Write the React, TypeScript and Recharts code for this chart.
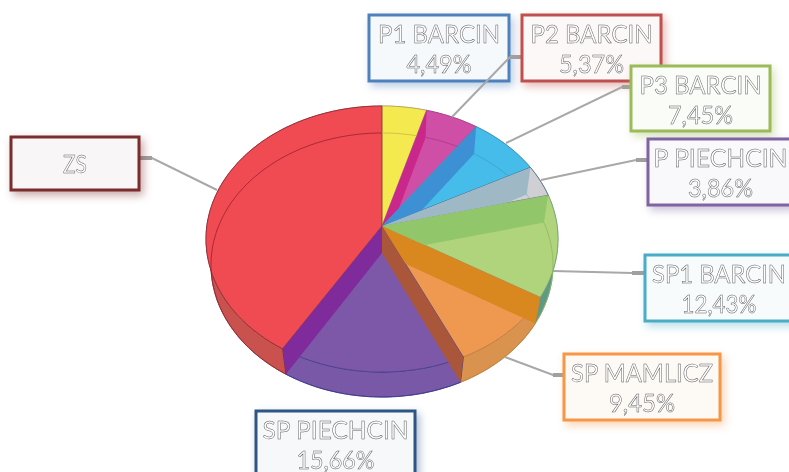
import React from 'react'
import { PieChart, Pie } from 'recharts'

const categories = ['P1 BARCIN', 'P2 BARCIN', 'P3 BARCIN', 'P PIECHCIN', 'SP1 BARCIN', 'SP MAMLICZ', 'SP PIECHCIN', 'ZS']
const shares = [4.49, 5.37, 7.45, 3.86, 12.43, 9.45, 15.66, 41.29]
const shareLabels = ['4,49%', '5,37%', '7,45%', '3,86%', '12,43%', '9,45%', '15,66%', '']

const faceColors = ['#f4ea50', '#cf4ea6', '#46bcea', '#d0d0d4', '#afd47c', '#ee9850', '#7d58a8', '#f04a52']
const edgeColors = ['#a89c50', '#a0408a', '#3a88b0', '#44607c', '#6f9a70', '#b87838', '#3b3788', '#7c2430']
const rimColors = ['#d8cc40', '#b04090', '#3a9cc8', '#b0b0b4', '#5f9a84', '#d9934f', '#7a58a8', '#c9524f']
const backArcColors = ['#c8b840', '#a83a90', '#3aa0d0', '#a8a8ac', '#8cb860', '#c88038', '#3b3788', '#982030']
// band seen through the glass where a slice starts / ends
const startWalls = [null, '#c9288a', '#3e90d4', '#9fb8c6', '#92c66a', '#d9871f', '#a9563a', null]
const endWalls = [null, null, null, null, null, null, '#7f2b9b', null]
const borderColors = ['#4f81bd', '#c0504d', '#9bbb59', '#8064a2', '#4bacc6', '#f79646', '#2f5585', '#7b2c2c']
const boxFills = ['#f5f9fc', '#fcf8f7', '#fafcf7', '#f9f9fb', '#f7fbfc', '#fdf9f5', '#f6f8f9', '#f8f6f6']

// box: x, y, w, h / leader points, box side first
const boxes = [
    [369, 15, 140, 66],
    [522, 15, 139, 66],
    [631, 66, 139, 65],
    [648, 139, 145, 66],
    [645, 255, 148, 66],
    [564, 354, 156, 66],
    [256, 411, 159, 80],
    [11, 137, 128, 53],
]
const leaders = [
    [],
    [[521, 57], [510, 57], [452, 117]],
    [[630, 87], [622, 87], [506, 143]],
    [[647, 160], [636, 160], [541, 180]],
    [[644, 273], [632, 273], [553, 271]],
    [[563, 375], [553, 375], [505, 357]],
    [],
    [[140, 158], [152, 158], [217, 190]],
]
const nameWidths = [122, 122, 122, 134, 134, 142, 146, 24]
const shareWidths = [65, 65, 65, 65, 75, 66, 78, 0]

const rows = categories.map((name, i) => ({ name, value: shares[i] }))

const TOP = { apex: 226, rx: 176, ry: 133, k: -13 / 133 }
const BOTTOM = { apex: 253, rx: 171, ry: 132, k: -12 / 132 }

type Face = typeof TOP

const project = (cx: number, f: Face, theta: number) => {
    const t = (theta * Math.PI) / 180
    const u = Math.sin(t)
    const v = -Math.cos(t)
    const d = 1 + f.k * v
    return [
        cx + (f.rx * u * Math.sqrt(1 - f.k * f.k)) / d,
        f.apex - f.k * f.ry + (f.ry * (v + f.k)) / d,
    ]
}

const arc = (cx: number, f: Face, a: number, b: number) => {
    const out: number[][] = []
    const n = Math.max(2, Math.ceil(Math.abs(b - a)))
    for (let i = 0; i <= n; i++) out.push(project(cx, f, a + ((b - a) * i) / n))
    return out
}

const toPath = (pts: number[][], close = true) =>
    pts.map((p, i) => `${i ? 'L' : 'M'}${p[0].toFixed(1)},${p[1].toFixed(1)}`).join('') + (close ? 'Z' : '')

// recharts hands out math angles, we want clockwise from 12 o'clock
const thetas = (props: any) => [90 - props.startAngle, 90 - props.endAngle]

const RimSlice = (props: any) => {
    const [a, b] = thetas(props)
    const i = props.index
    const pts = [...arc(props.cx, TOP, a, b), ...arc(props.cx, BOTTOM, b, a)]
    return <path d={toPath(pts)} fill={rimColors[i]} stroke={edgeColors[i]} strokeWidth={0.8} />
}

const FaceSlice = (props: any) => {
    const [a, b] = thetas(props)
    const i = props.index
    const pts = [[props.cx, TOP.apex], ...arc(props.cx, TOP, a, b)]
    return <path d={toPath(pts)} fill={faceColors[i]} stroke={edgeColors[i]} strokeWidth={0.8} strokeOpacity={0.8} />
}

const wallPath = (cx: number, theta: number) =>
    toPath([[cx, TOP.apex], project(cx, TOP, theta), project(cx, BOTTOM, theta), [cx, BOTTOM.apex]])

const WallSlice = (props: any) => {
    const [a, b] = thetas(props)
    const i = props.index
    const cx = props.cx
    const wedge = [
        [cx, TOP.apex],
        ...arc(cx, TOP, a, b).map(p => [cx + (p[0] - cx) * 1.6, TOP.apex + (p[1] - TOP.apex) * 1.6]),
    ]
    const clipId = `wedge-${i}`
    return (
        <g>
            <clipPath id={clipId}>
                <path d={toPath(wedge)} />
            </clipPath>
            <g clipPath={`url(#${clipId})`}>
                {startWalls[i] && <path d={wallPath(cx, a)} fill={startWalls[i] as string} />}
                {endWalls[i] && <path d={wallPath(cx, b)} fill={endWalls[i] as string} />}
            </g>
            <path
                d={toPath(arc(cx, BOTTOM, a, b), false)}
                fill="none"
                stroke={backArcColors[i]}
                strokeWidth={1}
                strokeOpacity={0.8}
            />
        </g>
    )
}

const hollowText = {
    fontFamily: 'Lato, "Open Sans", sans-serif',
    fontWeight: 400,
    fontSize: 25,
    fill: '#ffffff',
    stroke: '#5a5a5a',
    strokeWidth: 0.5,
    textAnchor: 'middle' as const,
    // group opacity keeps the glyph edges grey
    style: { opacity: 0.99 },
}

const BoxLabel = (props: any) => {
    const i = props.index
    const [x, y, w, h] = boxes[i]
    const line = leaders[i]
    const mid = x + w / 2
    const single = !shareLabels[i]
    return (
        <g>
            {line.length > 0 && (
                <g>
                    <path d={toPath(line, false)} fill="none" stroke="#a8a8a8" strokeWidth={2} />
                    <path d={toPath(line.slice(0, 2), false)} fill="none" stroke="#a0a0a0" strokeWidth={4} />
                </g>
            )}
            <rect
                x={x}
                y={y}
                width={w}
                height={h}
                fill={boxFills[i]}
                stroke={borderColors[i]}
                strokeWidth={3}
                style={{ filter: `drop-shadow(3px 4px 4px ${borderColors[i]}66)` }}
            />
            <text
                {...hollowText}
                x={mid}
                y={single ? y + 36 : y + 28}
                textLength={nameWidths[i]}
                lengthAdjust="spacingAndGlyphs"
            >
                {categories[i]}
            </text>
            {!single && (
                <text {...hollowText} x={mid} y={y + 58} textLength={shareWidths[i]} lengthAdjust="spacingAndGlyphs">
                    {shareLabels[i]}
                </text>
            )}
        </g>
    )
}

export default function App() {
    const common = {
        data: rows,
        dataKey: 'value',
        nameKey: 'name',
        cx: 382,
        cy: 226,
        outerRadius: 176,
        startAngle: 90,
        endAngle: -270,
        isAnimationActive: false,
    }
    return (
        <div style={{ position: 'absolute', left: 0, top: 0, width: 789, height: 472, overflow: 'hidden', background: '#fff' }}>
            <PieChart width={789} height={472} margin={{ top: 0, right: 0, bottom: 0, left: 0 }}>
                <Pie {...common} shape={RimSlice} />
                <Pie {...common} shape={FaceSlice} />
                <Pie {...common} shape={WallSlice} label={BoxLabel} labelLine={false} />
            </PieChart>
        </div>
    )
}
